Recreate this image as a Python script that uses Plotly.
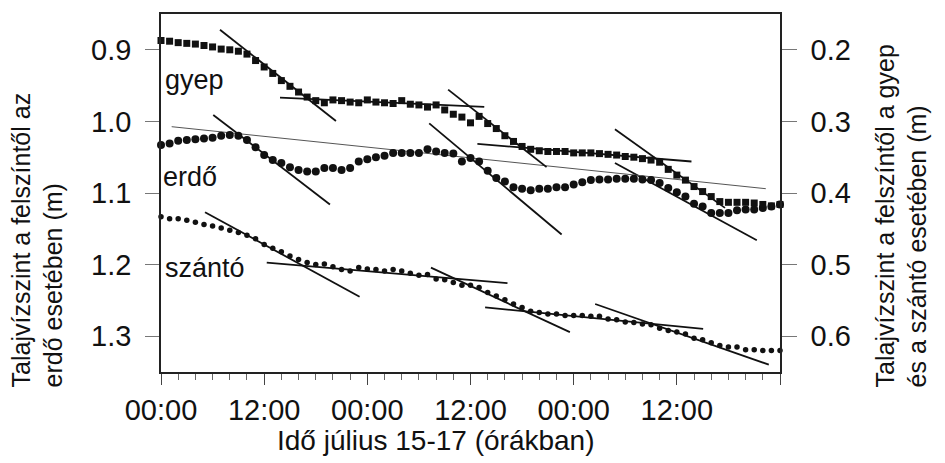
import plotly.graph_objects as go

# ---- data -------------------------------------------------------------
hours = list(range(73))  # July 15 00:00 .. July 17 24:00, hourly

gyep = [0.187, 0.188, 0.190, 0.191, 0.192, 0.194, 0.196, 0.199, 0.200, 0.202,
        0.206, 0.215, 0.224, 0.233, 0.243, 0.251, 0.259, 0.266, 0.271, 0.274,
        0.270, 0.271, 0.273, 0.274, 0.270, 0.273, 0.274, 0.275, 0.271, 0.276,
        0.277, 0.280, 0.277, 0.284, 0.290, 0.294, 0.302, 0.293, 0.303, 0.310,
        0.320, 0.328, 0.335, 0.339, 0.341, 0.342, 0.342, 0.342, 0.344, 0.344,
        0.344, 0.345, 0.346, 0.347, 0.349, 0.350, 0.352, 0.354, 0.357, 0.367,
        0.375, 0.382, 0.391, 0.398, 0.405, 0.412, 0.413, 0.413, 0.413, 0.414,
        0.416, 0.418, 0.416]

erdo = [1.033, 1.031, 1.027, 1.026, 1.025, 1.024, 1.023, 1.020, 1.019, 1.020,
        1.026, 1.036, 1.047, 1.054, 1.058, 1.064, 1.068, 1.070, 1.070, 1.065,
        1.065, 1.068, 1.065, 1.056, 1.053, 1.050, 1.048, 1.044, 1.044, 1.044,
        1.044, 1.039, 1.042, 1.044, 1.045, 1.056, 1.051, 1.056, 1.069, 1.079,
        1.084, 1.092, 1.094, 1.096, 1.094, 1.094, 1.092, 1.092, 1.088, 1.085,
        1.082, 1.081, 1.081, 1.080, 1.080, 1.080, 1.081, 1.082, 1.086, 1.093,
        1.099, 1.105, 1.115, 1.119, 1.128, 1.128, 1.128, 1.124, 1.123, 1.123,
        1.121, 1.119, 1.116]

szanto = [0.433, 0.436, 0.436, 0.438, 0.441, 0.444, 0.446, 0.449, 0.452, 0.455,
          0.459, 0.464, 0.472, 0.477, 0.482, 0.488, 0.493, 0.497, 0.500, 0.499,
          0.503, 0.507, 0.509, 0.504, 0.506, 0.507, 0.509, 0.507, 0.509, 0.512,
          0.515, 0.514, 0.520, 0.521, 0.525, 0.529, 0.529, 0.532, 0.539, 0.544,
          0.549, 0.555, 0.560, 0.565, 0.567, 0.569, 0.569, 0.571, 0.571, 0.571,
          0.572, 0.572, 0.576, 0.577, 0.580, 0.581, 0.583, 0.584, 0.589, 0.592,
          0.594, 0.597, 0.603, 0.605, 0.609, 0.613, 0.615, 0.615, 0.619, 0.619,
          0.620, 0.620, 0.620]

# tangent segments: (hour_start, value_start, hour_end, value_end)
gyep_tangents = [(6.86, 0.172, 20.35, 0.2994),
                 (13.84, 0.2667, 37.6, 0.2796),
                 (33.4, 0.2556, 44.85, 0.3639),
                 (36.8, 0.3314, 61.7, 0.356),
                 (52.8, 0.311, 65.6, 0.4208)]
erdo_tangents = [(6.08, 0.991, 19.65, 1.116),
                 (31.2, 1.0028, 46.6, 1.158),
                 (52.8, 1.058, 69.3, 1.166)]
erdo_trend = [(1.24, 1.0074, 70.35, 1.094)]
szanto_tangents = [(5.12, 0.4268, 23.1, 0.5449),
                   (12.3, 0.4972, 40.3, 0.5259),
                   (31.4, 0.5042, 47.56, 0.5944),
                   (37.7, 0.5597, 63.06, 0.5897),
                   (50.5, 0.555, 70.7, 0.6398)]

x_tickvals = [0, 12, 24, 36, 48, 60, 72]
x_ticktext = ["00:00", "12:00", "00:00", "12:00", "00:00", "12:00", ""]
left_ticks = [0.9, 1.0, 1.1, 1.2, 1.3]
right_ticks = [0.2, 0.3, 0.4, 0.5, 0.6]

FONT = "Liberation Sans, Arial, Helvetica, sans-serif"


def seg_xy(segs):
    xs, ys = [], []
    for x0, y0, x1, y1 in segs:
        xs += [x0, x1, None]
        ys += [y0, y1, None]
    return xs, ys


fig = go.Figure()

# tangent / trend lines
for segs, axis, width, color in [(gyep_tangents, "y2", 1.8, "#111"),
                                 (erdo_tangents, "y", 1.8, "#111"),
                                 (szanto_tangents, "y2", 1.8, "#111"),
                                 (erdo_trend, "y", 1.0, "#555")]:
    xs, ys = seg_xy(segs)
    fig.add_trace(go.Scatter(x=xs, y=ys, yaxis=axis, mode="lines",
                             line=dict(color=color, width=width),
                             showlegend=False, hoverinfo="skip"))

fig.add_trace(go.Scatter(x=hours, y=gyep, yaxis="y2", mode="markers",
                         marker=dict(symbol="square", size=7, color="#111"),
                         cliponaxis=False, showlegend=False, name="gyep"))
fig.add_trace(go.Scatter(x=hours, y=erdo, yaxis="y", mode="markers",
                         marker=dict(symbol="circle", size=8, color="#111"),
                         cliponaxis=False, showlegend=False, name="erdő"))
fig.add_trace(go.Scatter(x=hours, y=szanto, yaxis="y2", mode="markers",
                         marker=dict(symbol="circle", size=5.5, color="#111"),
                         cliponaxis=False, showlegend=False, name="szántó"))

W, H = 945, 463
L, R, T, B = 161, 165, 12, 91
pw, ph = W - L - R, H - T - B


def px(x):
    return (x - L) / pw


def py(y):
    return (H - B - y) / ph


annotations = [
    dict(text="gyep", x=px(163), y=py(78.5), xanchor="left", yanchor="middle",
         font=dict(size=27)),
    dict(text="erdő", x=px(161), y=py(176), xanchor="left", yanchor="middle",
         font=dict(size=27)),
    dict(text="szántó", x=px(163), y=py(267.5), xanchor="left", yanchor="middle",
         font=dict(size=27)),
    dict(text="Talajvízszint a felszíntől az<br>erdő esetében (m)",
         x=px(37), y=py(390), xanchor="center", yanchor="bottom",
         textangle=-90, align="left", font=dict(size=25)),
    dict(text="Talajvízszint a felszíntől a gyep<br>és a szántó esetében (m)",
         x=px(901), y=py(390), xanchor="center", yanchor="bottom",
         textangle=-90, align="left", font=dict(size=25)),
    dict(text="Idő július 15-17 (órákban)", x=px(436), y=py(441),
         xanchor="center", yanchor="middle", font=dict(size=28)),
]
for a in annotations:
    a.update(xref="paper", yref="paper", showarrow=False)

fig.update_layout(
    width=W, height=H,
    margin=dict(l=L, r=R, t=T, b=B, pad=0),
    paper_bgcolor="white", plot_bgcolor="white",
    font=dict(family=FONT, color="#111", size=26),
    annotations=annotations,
    xaxis=dict(range=[0, 72], tickvals=x_tickvals, ticktext=x_ticktext,
               ticks="outside", ticklen=11, tickwidth=1, tickcolor="#444",
               minor=dict(dtick=2, ticks="outside", ticklen=6, tickcolor="#666"),
               showline=True, mirror=True, linecolor="#222", linewidth=1.5,
               showgrid=False, zeroline=False, tickfont=dict(size=29),
               fixedrange=True),
    yaxis=dict(range=[1.35, 0.85], tickvals=left_ticks, tickformat=".1f",
               ticks="outside", ticklen=14, tickcolor="#777", tickwidth=1.2,
               showline=True, linecolor="#222", linewidth=1.5,
               showgrid=False, zeroline=False, tickfont=dict(size=29),
               ticklabelstandoff=8),
    yaxis2=dict(range=[0.65, 0.15], tickvals=right_ticks, tickformat=".1f",
                overlaying="y", side="right",
                ticks="outside", ticklen=15, tickcolor="#777", tickwidth=1.2,
                showline=True, linecolor="#222", linewidth=1.5,
                showgrid=False, zeroline=False, tickfont=dict(size=29),
                ticklabelstandoff=8),
)

fig.write_html("out.html")
